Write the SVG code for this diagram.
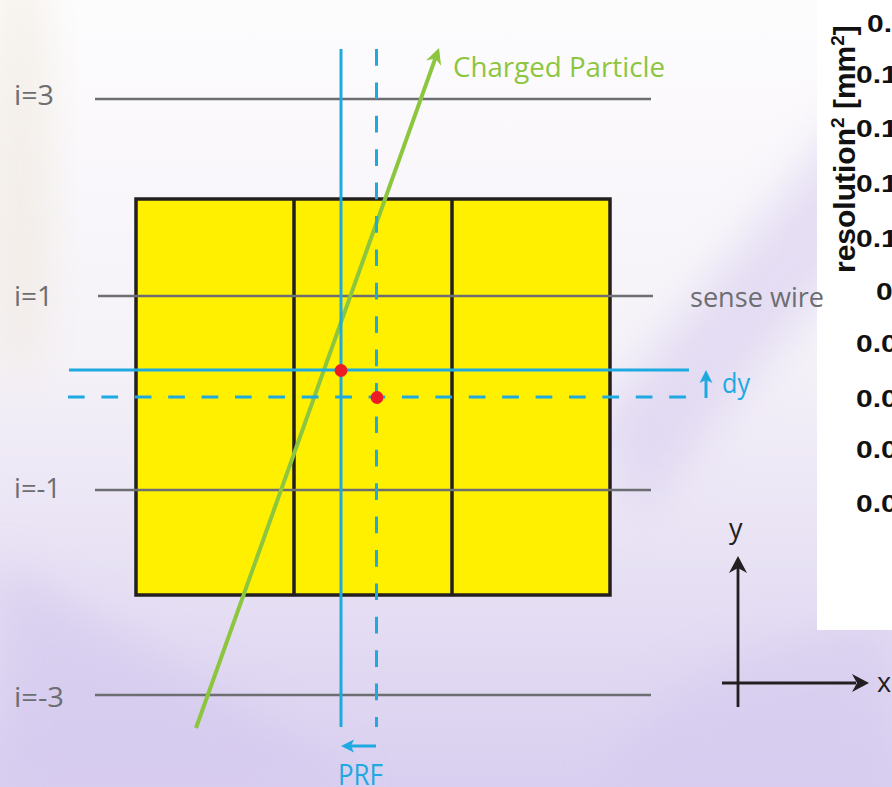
<svg xmlns="http://www.w3.org/2000/svg" width="892" height="787" viewBox="0 0 892 787">
<defs>
<linearGradient id="bg" x1="0" y1="0" x2="0" y2="1">
<stop offset="0" stop-color="#fdfcfd"/>
<stop offset="0.45" stop-color="#f5f2f8"/>
<stop offset="1" stop-color="#d9cff0"/>
</linearGradient>
<filter id="soft" x="-50%" y="-50%" width="200%" height="200%"><feGaussianBlur stdDeviation="22"/></filter>
<style>
.wire{stroke:#6d6e71;stroke-width:2.6;fill:none}
.blue{stroke:#1ea9e1;stroke-width:3;fill:none}
.dash{stroke-dasharray:16.7 16.7}
.cell{fill:#fff000;stroke:#231f20;stroke-width:3.5}
.div{stroke:#231f20;stroke-width:3.5}
.lbl{font-family:"Open Sans","Noto Sans",sans-serif;font-size:28px;fill:#6d6e71}
.glbl{font-family:"Open Sans","Noto Sans",sans-serif;font-size:28px;fill:#8cc63f}
.blbl{font-family:"Open Sans","Noto Sans",sans-serif;fill:#1ea9e1}
.albl{font-family:"Open Sans","Noto Sans",sans-serif;font-size:27px;fill:#231f20}
.tick{font-family:"Liberation Sans",Arial,sans-serif;font-weight:bold;font-size:24px;fill:#111}
.ylab{font-family:"Liberation Sans",Arial,sans-serif;font-weight:bold;font-size:30px;fill:#111}
.sup{font-size:19px}
.axis{stroke:#231f20;stroke-width:2.8;fill:none}
</style>
</defs>

<g id="background">
<rect width="892" height="787" fill="url(#bg)"/>
<path d="M900,40 C820,160 720,260 600,420 L640,520 C760,360 860,260 900,200 Z" fill="#d6cbef" opacity="0.55" filter="url(#soft)"/>
<ellipse cx="20" cy="170" rx="28" ry="220" fill="#eee6d8" opacity="0.6" filter="url(#soft)"/>
<path d="M0,560 C120,640 260,700 360,787 L0,787 Z" fill="#d3c8ee" opacity="0.6" filter="url(#soft)"/>
<path d="M600,787 C640,700 700,650 892,620 L892,787 Z" fill="#d3c8ee" opacity="0.5" filter="url(#soft)"/>
</g>

<g id="plot-fragment">
<rect x="817" y="0" width="75" height="630" fill="#ffffff"/>
<text class="ylab" transform="translate(855,273) rotate(-90)">resolution<tspan class="sup" dy="-11">2</tspan><tspan dy="11"> [mm</tspan><tspan class="sup" dy="-11">2</tspan><tspan dy="11">]</tspan></text>
<text class="tick" transform="translate(867,32) scale(1.25,1)">0.</text>
<text class="tick" transform="translate(856,83) scale(1.25,1)">0.1</text>
<text class="tick" transform="translate(856,137) scale(1.25,1)">0.1</text>
<text class="tick" transform="translate(856,192) scale(1.25,1)">0.1</text>
<text class="tick" transform="translate(856,247) scale(1.25,1)">0.1</text>
<text class="tick" transform="translate(876,300) scale(1.25,1)">0</text>
<text class="tick" transform="translate(856,352) scale(1.25,1)">0.0</text>
<text class="tick" transform="translate(856,407) scale(1.25,1)">0.0</text>
<text class="tick" transform="translate(856,458) scale(1.25,1)">0.0</text>
<text class="tick" transform="translate(856,512) scale(1.25,1)">0.0</text>
</g>

<g id="cells">
<rect class="cell" x="136" y="199" width="474" height="396"/>
<line class="div" x1="294" y1="199" x2="294" y2="595"/>
<line class="div" x1="452" y1="199" x2="452" y2="595"/>
</g>

<g id="sense-wires">
<line class="wire" x1="95" y1="99" x2="651" y2="99"/>
<line class="wire" x1="98" y1="296" x2="653" y2="296"/>
<line class="wire" x1="95" y1="490" x2="651" y2="490"/>
<line class="wire" x1="95" y1="695" x2="651" y2="695"/>
</g>

<g id="particle">
<line x1="196" y1="728" x2="435.3" y2="58.4" stroke="#8cc63f" stroke-width="4"/>
<polygon points="439,48 441.1,65.8 435.3,58.4 426.1,60.4" fill="#8cc63f"/>
</g>

<g id="connectors">
<line class="blue" x1="341" y1="49" x2="341" y2="727"/>
<line class="blue dash" x1="376.5" y1="49" x2="376.5" y2="727"/>
<line class="blue" x1="69" y1="370" x2="689" y2="370"/>
<line class="blue dash" x1="68" y1="397" x2="686" y2="397"/>
<line class="blue" x1="706" y1="398" x2="706" y2="380" stroke-width="2.6"/>
<polygon points="706,370 712.5,383 706,380 699.5,383" fill="#1ea9e1"/>
<line class="blue" x1="350" y1="746" x2="376" y2="746" stroke-width="2.6"/>
<polygon points="341,746 354,739.5 351,746 354,752.5" fill="#1ea9e1"/>
</g>

<g id="hits">
<circle cx="341" cy="370.5" r="6.4" fill="#ed1c24"/>
<circle cx="377" cy="397.5" r="6.4" fill="#ed1c24"/>
</g>

<g id="labels">
<text class="lbl" x="14" y="105" textLength="40" lengthAdjust="spacingAndGlyphs">i=3</text>
<text class="lbl" x="14" y="306" textLength="39" lengthAdjust="spacingAndGlyphs">i=1</text>
<text class="lbl" x="14" y="498" textLength="47" lengthAdjust="spacingAndGlyphs">i=-1</text>
<text class="lbl" x="14" y="707" textLength="50" lengthAdjust="spacingAndGlyphs">i=-3</text>
<text class="lbl" x="690" y="307" textLength="134" lengthAdjust="spacingAndGlyphs">sense wire</text>
<text class="glbl" x="453" y="77" textLength="212" lengthAdjust="spacingAndGlyphs">Charged Particle</text>
<text class="blbl" x="722" y="393" style="font-size:27px" textLength="28" lengthAdjust="spacingAndGlyphs">dy</text>
<text class="blbl" x="338" y="785" style="font-size:29px" textLength="45" lengthAdjust="spacingAndGlyphs">PRF</text>
</g>

<g id="axes">
<line class="axis" x1="738" y1="707" x2="738" y2="568"/>
<polygon points="738,556 747,573 738,568 729,573" fill="#231f20"/>
<line class="axis" x1="722" y1="683" x2="856" y2="683"/>
<polygon points="869,683 852,674 857,683 852,692" fill="#231f20"/>
<text class="albl" x="729" y="538">y</text>
<text class="albl" x="877" y="692">x</text>
</g>
</svg>
